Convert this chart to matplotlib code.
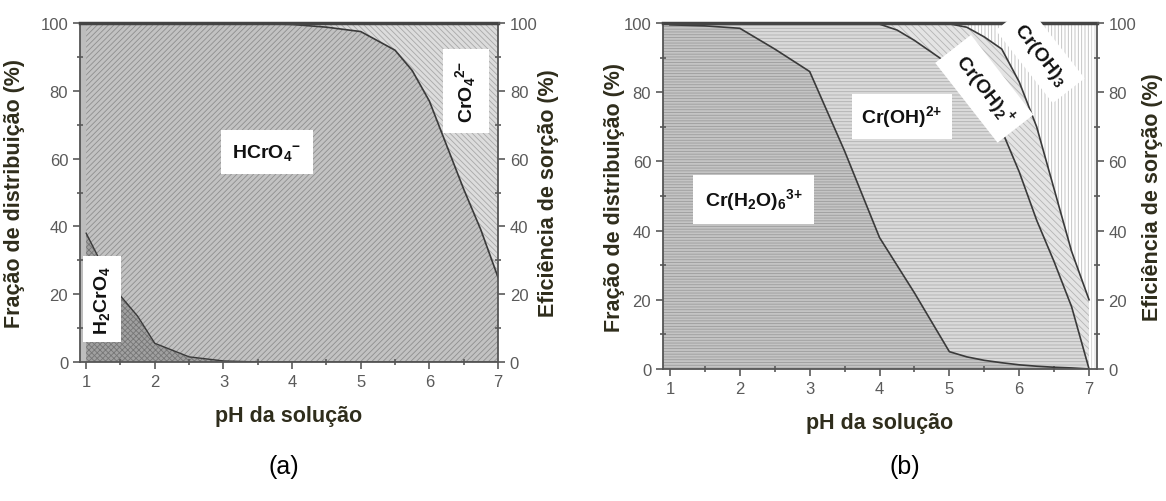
import numpy as np
import matplotlib
matplotlib.use("Agg")
import matplotlib.pyplot as plt

plt.rcParams['font.family'] = ['Liberation Sans', 'DejaVu Sans']
plt.rcParams['mathtext.default'] = 'regular'
plt.rcParams['hatch.linewidth'] = 0.6

# ---- data: panel (a), Cr(VI) species, cumulative upper boundaries ----
ph_a = [1, 1.25, 1.5, 1.75, 2, 2.5, 3, 3.5, 4, 4.5, 5, 5.5, 5.75, 6, 6.25, 6.5, 6.75, 7]
h2cro4_top = [38, 28, 19.5, 13.5, 5.5, 1.5, 0.3, 0, 0, 0, 0, 0, 0, 0, 0, 0, 0, 0]
hcro4_top = [100, 100, 100, 100, 100, 100, 100, 99.9, 99.6, 98.8, 97.5, 92, 86, 77, 64, 51, 39, 25]

# ---- data: panel (b), Cr(III) species, cumulative upper boundaries ----
ph_b = [1, 1.5, 2, 2.5, 3, 3.5, 4, 4.25, 4.5, 4.75, 5, 5.25, 5.5, 5.75, 6, 6.25, 6.5, 6.75, 7]
crh2o_top = [99.5, 99.2, 98.5, 92.5, 86, 63, 38, 30, 22, 13.5, 5, 3.5, 2.5, 1.8, 1.2, 0.8, 0.5, 0.3, 0]
croh_top = [100, 100, 100, 100, 100, 100, 99.7, 98, 95, 91.5, 88, 83, 77, 69, 57, 43, 31, 18, 0]
croh2_top = [100, 100, 100, 100, 100, 100, 100, 100, 100, 100, 99.8, 98.8, 96, 92.5, 83, 70, 52, 34, 20]

yticks = [0, 20, 40, 60, 80, 100]
xticks = [1, 2, 3, 4, 5, 6, 7]

label_col = '#2f2d1c'
tick_col = '#5a5a5a'
line_col = '#3a3a3a'

fig = plt.figure(figsize=(11.66, 5.02), dpi=100)
axa = fig.add_axes([0.0686, 0.277, 0.3585, 0.675])
axb = fig.add_axes([0.5686, 0.263, 0.372, 0.689])


def style_axes(ax, xlim, left_lab_x, right_lab_x):
    ax.set_xlim(*xlim)
    ax.set_ylim(0, 100)
    ax.set_xticks(xticks)
    ax.set_yticks(yticks)
    ax.set_xticks(np.arange(1.5, 7, 1.0), minor=True)
    ax.set_yticks(np.arange(10, 100, 20), minor=True)
    ax.tick_params(which='major', direction='out', length=5, width=1.2,
                   colors=tick_col, labelsize=12)
    ax.tick_params(which='minor', direction='inout', length=4, width=1.2, colors=tick_col)
    for s in ax.spines.values():
        s.set_color('#555555')
        s.set_linewidth(1.3)
    ax.spines['top'].set_linewidth(2.5)
    ax.spines['top'].set_color('#444444')
    ax.set_xlabel('pH da solução', fontsize=15.5, fontweight='bold', color=label_col, labelpad=12)
    ax.set_ylabel('Fração de distribuição (%)', fontsize=15.5, fontweight='bold', color=label_col)
    ax.yaxis.set_label_coords(left_lab_x, 0.5)
    axr = ax.twinx()
    axr.set_ylim(0, 100)
    axr.set_yticks(yticks)
    axr.set_yticks(np.arange(10, 100, 20), minor=True)
    axr.tick_params(which='major', direction='out', length=5, width=1.2,
                    colors=tick_col, labelsize=12)
    axr.tick_params(which='minor', direction='inout', length=4, width=1.2, colors=tick_col)
    for s in axr.spines.values():
        s.set_visible(False)
    axr.set_ylabel('Eficiência de sorção (%)', fontsize=15.5, fontweight='bold', color=label_col)
    axr.yaxis.set_label_coords(right_lab_x, 0.5)


def box(pad):
    return dict(boxstyle='square,pad=%s' % pad, facecolor='white', edgecolor='none')


lab = dict(fontsize=14, fontweight='bold', color='#111111', ha='center', va='center')

# ---- panel (a) ----
axa.set_facecolor('#bdbdbd')
axa.fill_between(ph_a, 0, h2cro4_top, facecolor='#a0a0a0', edgecolor='#767676',
                 hatch='xxxxxx', linewidth=0)
axa.fill_between(ph_a, h2cro4_top, hcro4_top, facecolor='#c2c2c2', edgecolor='#8e8e8e',
                 hatch='//////', linewidth=0)
axa.fill_between(ph_a, hcro4_top, 100, facecolor='#dcdcdc', edgecolor='#a8a8a8',
                 hatch='\\\\\\\\\\\\', linewidth=0)
axa.plot(ph_a, h2cro4_top, color=line_col, lw=1.0)
axa.plot(ph_a, hcro4_top, color=line_col, lw=1.2)
style_axes(axa, (0.91, 7.0), -0.132, 1.096)

axa.text(3.63, 62, 'HCrO$_4$$^{{-}}$', bbox=box(0.6), **lab)
axa.text(6.53, 80, 'CrO$_4$$^{2{-}}$', rotation=90, bbox=box(0.55), **lab)
axa.text(1.23, 18.5, 'H$_2$CrO$_4$', rotation=90, bbox=box(0.45), **lab)

# ---- panel (b) ----
axb.axvspan(0.90, 1.0, facecolor='#c4c4c4', edgecolor='#9c9c9c', hatch='------', linewidth=0)
axb.fill_between(ph_b, 0, crh2o_top, facecolor='#c4c4c4', edgecolor='#9c9c9c',
                 hatch='------', linewidth=0)
axb.fill_between(ph_b, crh2o_top, croh_top, facecolor='#dadada', edgecolor='#b0b0b0',
                 hatch='-----', linewidth=0)
axb.fill_between(ph_b, croh_top, croh2_top, facecolor='#e4e4e4', edgecolor='#b4b4b4',
                 hatch='\\\\\\\\\\', linewidth=0)
axb.fill_between(ph_b, croh2_top, 100, facecolor='white', edgecolor='#bdbdbd',
                 hatch='|||||', linewidth=0)
axb.axvspan(7.0, 7.11, facecolor='white', edgecolor='#cfcfcf', hatch='|||||', linewidth=0)
axb.plot(ph_b, crh2o_top, color=line_col, lw=1.2)
axb.plot(ph_b, croh_top, color=line_col, lw=1.2)
axb.plot(ph_b, croh2_top, color=line_col, lw=1.2)
style_axes(axb, (0.90, 7.11), -0.088, 1.104)

axb.text(2.2, 49, 'Cr(H$_2$O)$_6$$^{3{+}}$', bbox=box(0.6), **lab)
axb.text(4.32, 73, 'Cr(OH)$^{2{+}}$', bbox=box(0.5), **lab)
axb.text(5.5, 81, 'Cr(OH)$_2$$^{{+}}$', rotation=-52, bbox=box(0.5), **lab)
axb.text(6.3, 91, 'Cr(OH)$_3$', rotation=-52, bbox=box(0.5), **lab)

fig.text(0.243, 0.07, '(a)', fontsize=18, ha='center', va='center')
fig.text(0.776, 0.07, '(b)', fontsize=18, ha='center', va='center')

fig.savefig('out.png', dpi=100)
